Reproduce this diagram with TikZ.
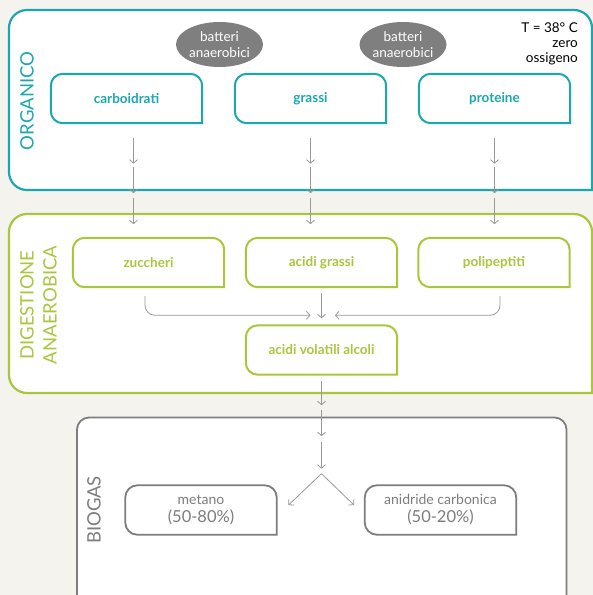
\documentclass[tikz,border=0pt]{standalone}
\usepackage{fontspec}
\setmainfont{Lato}
\usetikzlibrary{arrows.meta,shapes.geometric}
\definecolor{bgc}{HTML}{F4F3EE}
\definecolor{orgc}{HTML}{1AA7AF}
\definecolor{digc}{HTML}{A9C63C}
\definecolor{biogc}{HTML}{7D7D7D}
\definecolor{ellc}{HTML}{7F7F7F}
\definecolor{arrc}{HTML}{999999}
\newcommand\myframebox[2]{\draw[#2] (#1.south) [rounded corners=12pt] -- (#1.south west) -- (#1.north west) -- (#1.north east) -- (#1.east) [sharp corners] -- (#1.south east) -- cycle;}
\begin{document}
\begin{tikzpicture}[x=1pt,y=-1pt,
  boxnode/.style={minimum width=151pt, minimum height=49pt, inner sep=0pt, align=center},
  orgbox/.style={boxnode, text=orgc, font=\fontsize{13.5}{16}\selectfont\bfseries},
  digbox/.style={boxnode, text=digc, font=\fontsize{13.5}{16}\selectfont\bfseries},
  biobox/.style={boxnode, text=biogc, font=\fontsize{14}{18}\selectfont},
  orgline/.style={draw=orgc, line width=2pt},
  digline/.style={draw=digc, line width=2pt},
  bioline/.style={draw=biogc, line width=1.8pt},
  arr/.style={draw=arrc, line width=0.8pt, -{Straight Barb[length=3.5pt,width=8pt]}},
  title/.style={rotate=90, font=\fontsize{18.5}{23}\selectfont, align=center}
]
\useasboundingbox (0,0) rectangle (593,595);
\clip (0,0) rectangle (593,595);
\fill[bgc] (0,0) rectangle (593,595);

% panels
\draw[orgc, fill=white, line width=2.2pt] (300,190) [rounded corners=18pt] -- (9,190) -- (9,10) -- (592,10) -- (592,100) [sharp corners] -- (592,190) -- cycle;
\draw[digc, fill=white, line width=2.2pt] (300,393) [rounded corners=18pt] -- (9,393) -- (9,214) -- (592,214) -- (592,300) [sharp corners] -- (592,393) -- cycle;
\draw[biogc, fill=white, line width=1.8pt] (77,640) [rounded corners=12pt] -- (77,417.5) -- (566.5,417.5) -- (566.5,640);

% titles
\node[title, text=orgc] (torg) at (27,101) {ORGANICO};
\node[title, text=digc] (tdig) at (38.5,305) {DIGESTIONE\\ANAEROBICA};
\node[title, text=biogc] (tbio) at (94,510) {BIOGAS};

% ellipses and conditions
\node[ellipse, fill=ellc, minimum width=87pt, minimum height=45pt, inner sep=0pt, align=center, text=white, font=\fontsize{13.5}{15.5}\selectfont] (bat1) at (219.5,44.5) {batteri\\anaerobici};
\node[ellipse, fill=ellc, minimum width=87pt, minimum height=45pt, inner sep=0pt, align=center, text=white, font=\fontsize{13.5}{15.5}\selectfont] (bat2) at (403,44.5) {batteri\\anaerobici};
\node[anchor=north east, align=right, inner sep=0pt, font=\fontsize{13.5}{15}\selectfont] (temp) at (578,23) {T = 38° C\\zero\\ossigeno};

% organico boxes
\node[orgbox] (carb) at (126.5,98.5) {carboidrati};
\node[orgbox] (gras) at (310.5,98.5) {grassi};
\node[orgbox] (prot) at (494.5,98.5) {proteine};
\myframebox{carb}{orgline}
\myframebox{gras}{orgline}
\myframebox{prot}{orgline}

% digestione boxes
\node[digbox] (zucc) at (148.5,262.5) {zuccheri};
\node[digbox] (agra) at (321.5,262.5) {acidi grassi};
\node[digbox] (poli) at (494,262.5) {polipeptiti};
\node[digbox] (avol) at (321.5,350) {acidi volatili alcoli};
\myframebox{zucc}{digline}
\myframebox{agra}{digline}
\myframebox{poli}{digline}
\myframebox{avol}{digline}

% biogas boxes
\node[biobox] (meta) at (201,510) {metano\\{\fontsize{16.5}{18}\selectfont(50-80\%)}};
\node[biobox] (anid) at (440.5,510) {anidride carbonica\\{\fontsize{16.5}{18}\selectfont(50-20\%)}};
\myframebox{meta}{bioline}
\myframebox{anid}{bioline}

% arrows organico -> digestione
\foreach \n/\dx in {carb/7, gras/0, prot/0}{
  \draw[arr] ([xshift=\dx pt,yshift=-15pt]\n.south) -- ([xshift=\dx pt,yshift=-40.5pt]\n.south);
  \draw[arr] ([xshift=\dx pt,yshift=-44pt]\n.south) -- ([xshift=\dx pt,yshift=-70pt]\n.south);
  \draw[arr] ([xshift=\dx pt,yshift=-75pt]\n.south) -- ([xshift=\dx pt,yshift=-101pt]\n.south);
}

% digestione connectors
\draw[arr, rounded corners=10pt] ([xshift=-3.5pt,yshift=-9pt]zucc.south) |- ([xshift=-11pt,yshift=10pt]avol.north);
\draw[arr] ([yshift=-6pt]agra.south) -- ([yshift=7pt]avol.north);
\draw[arr, rounded corners=10pt] ([xshift=6pt,yshift=-9pt]poli.south) |- ([xshift=13.5pt,yshift=10pt]avol.north);

% to biogas
\draw[arr] ([yshift=-6pt]avol.south) -- ([yshift=-30.5pt]avol.south);
\draw[arr] ([yshift=-35pt]avol.south) -- ([yshift=-61.5pt]avol.south);
\draw[arr] ([yshift=-67pt]avol.south) -- ([yshift=-94pt]avol.south);
\coordinate (apex) at ([yshift=-99pt]avol.south);
\coordinate (ml) at (288.5,505);
\coordinate (mr) at (354,505);
\draw[arr] (apex) -- (ml);
\draw[arr] (apex) -- (mr);
\end{tikzpicture}
\end{document}
